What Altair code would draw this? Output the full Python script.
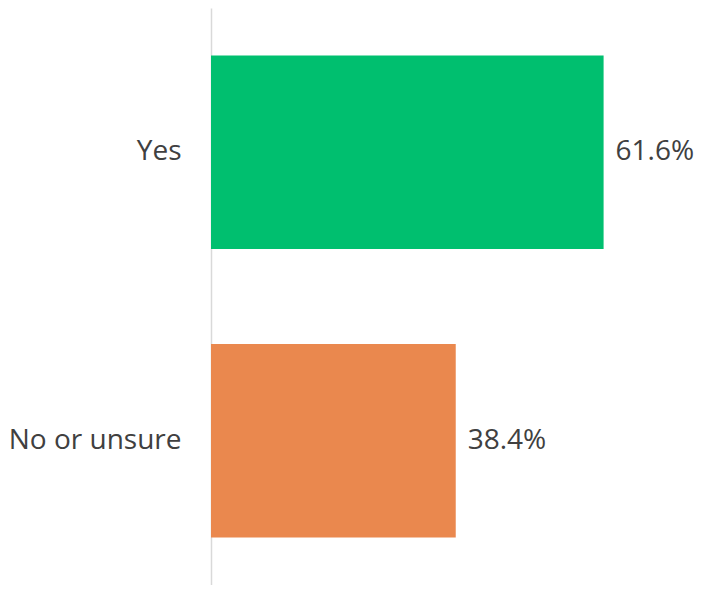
import altair as alt
import pandas as pd

categories = ["Yes", "No or unsure"]
values = [61.6, 38.4]
labels = ["61.6%", "38.4%"]
colors = ["#00BF6F", "#EA884E"]

df = pd.DataFrame({"cat": categories, "val": values, "label": labels})

y = alt.Y("cat:N", sort=categories, title=None,
          scale=alt.Scale(paddingInner=0.33, paddingOuter=0.165),
          axis=alt.Axis(domainColor="#D9D9D9", domainWidth=1.5, ticks=False,
                        labelFontSize=28, labelColor="#404040", labelFont="Open Sans",
                        labelPadding=30, grid=False))
x = alt.X("val:Q", scale=alt.Scale(domain=[0, 75], nice=False), axis=None)

bars = alt.Chart(df).mark_bar().encode(
    y=y, x=x,
    color=alt.Color("cat:N", scale=alt.Scale(domain=categories, range=colors), legend=None),
)
text = alt.Chart(df).mark_text(align="left", dx=12, fontSize=28, color="#404040",
                               font="Open Sans").encode(
    y=alt.Y("cat:N", sort=categories), x="val:Q", text="label:N")

chart = (bars + text).properties(
    width=478, height=577,
    autosize=alt.AutoSizeParams(type="none"),
    padding={"left": 203, "top": 0, "right": 5, "bottom": 0},
).configure_view(stroke=None)

chart.save("out.html", embed_options={"renderer": "svg", "actions": False})
